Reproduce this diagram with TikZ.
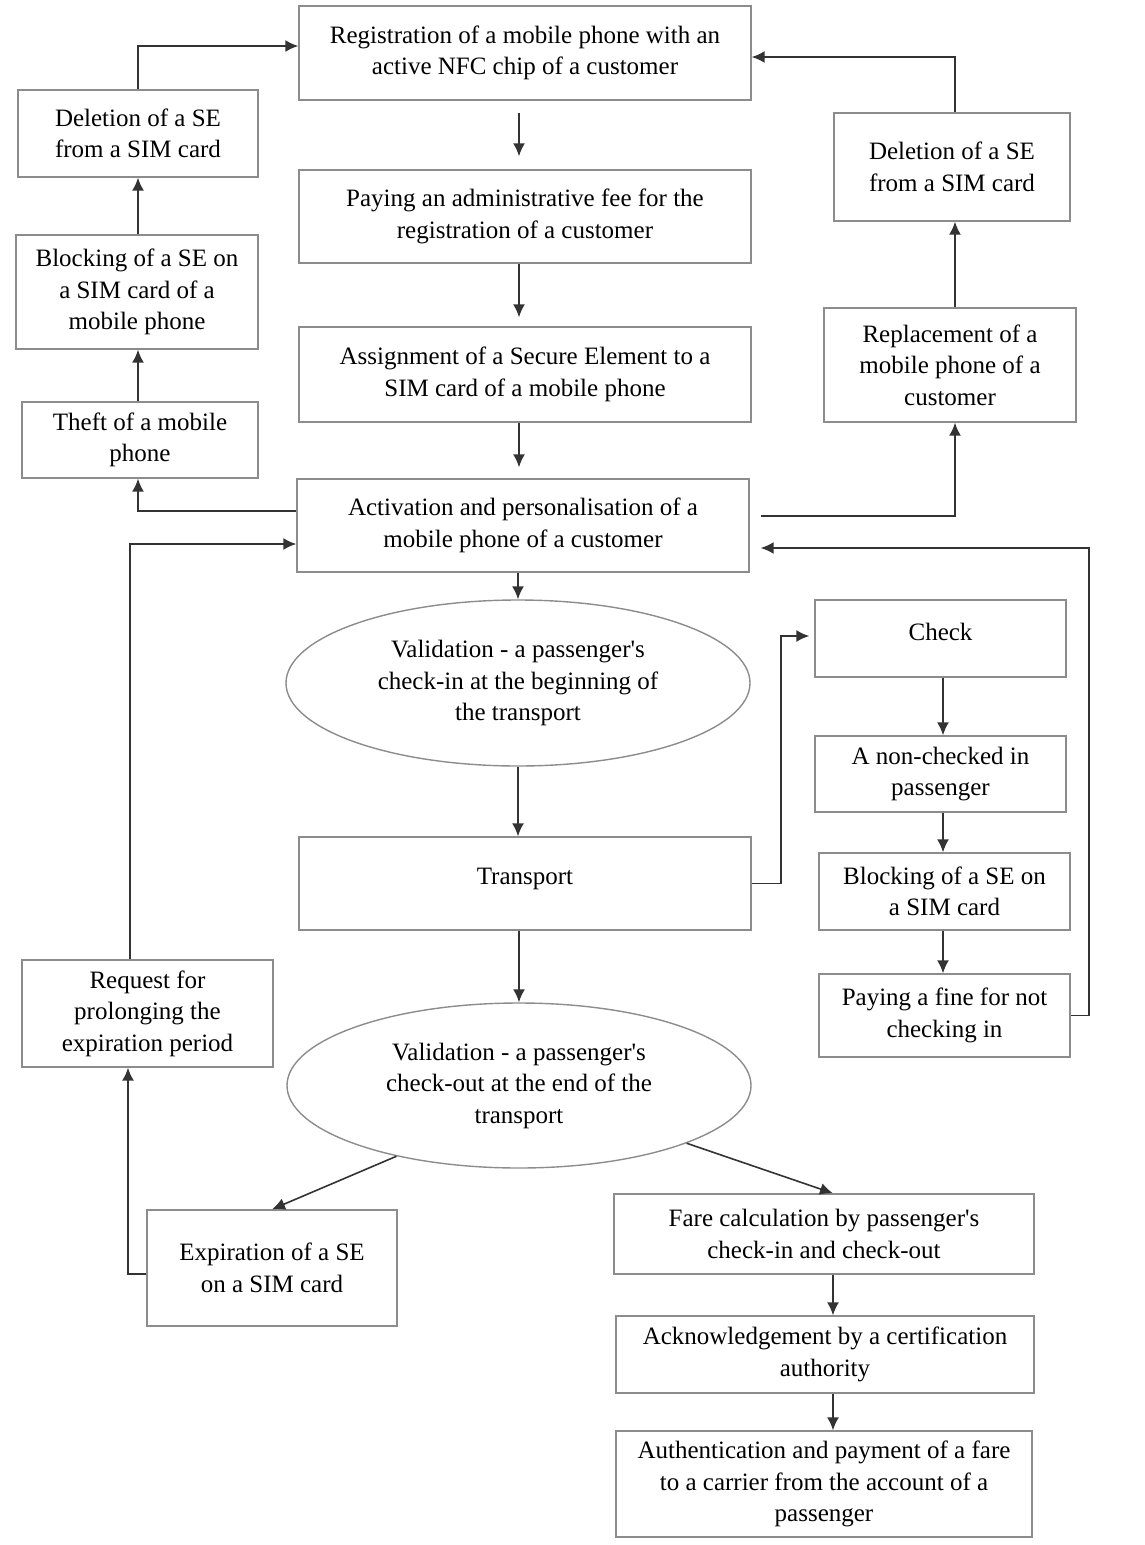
\documentclass[tikz,border=0pt]{standalone}
\usepackage{fontspec}
\setmainfont{Liberation Serif}
\usetikzlibrary{shapes.geometric, arrows.meta}
\tikzset{
->, % directed connectors
>={Latex[length=13pt,width=12pt]}, % filled arrow heads
conn/.style={color=black!80, line width=1.6pt}, % connector lines
dims/.style 2 args={minimum width=#1, minimum height=#2},
box/.style={draw=black!45, line width=1.4pt, rectangle, align=center, inner sep=0pt, font=\fontsize{25}{31.5}\selectfont}, % process boxes
oval/.style={box, ellipse}, % validation steps
}
\newcommand{\ap}{\textquotesingle}
\begin{document}
\begin{tikzpicture}[x=1pt, y=-1pt]
\useasboundingbox (0,0) rectangle (1145,1545);
% main column
\node[box, dims={452pt}{94pt}] (reg) at (525,53) {Registration of a mobile phone with an\\active NFC chip of a customer};
\node[box, dims={452pt}{93pt}] (fee) at (525,216.5) {Paying an administrative fee for the\\registration of a customer};
\node[box, dims={452pt}{95pt}] (assign) at (525,374.5) {Assignment of a Secure Element to a\\SIM card of a mobile phone};
\node[box, dims={452pt}{93pt}] (activ) at (523,525.5) {Activation and personalisation of a\\mobile phone of a customer};
\node[oval, dims={464pt}{166pt}] (valin) at (518,683) {Validation - a passenger\ap s\\check-in at the beginning of\\the transport};
\node[box, dims={452pt}{93pt}, text depth=14pt] (transport) at (525,883.5) {Transport};
\node[oval, dims={464pt}{165pt}] (valout) at (519,1085.5) {Validation - a passenger\ap s\\check-out at the end of the\\transport};
% payment branch
\node[box, dims={250pt}{116pt}] (expire) at (272,1268) {Expiration of a SE\\on a SIM card};
\node[box, dims={420pt}{80pt}] (fare) at (824,1234) {Fare calculation by passenger\ap s\\check-in and check-out};
\node[box, dims={418pt}{77pt}] (ack) at (825,1354.5) {Acknowledgement by a certification\\authority};
\node[box, dims={416pt}{106pt}] (auth) at (824,1484) {Authentication and payment of a fare\\to a carrier from the account of a\\passenger};
\node[box, dims={251pt}{107pt}] (request) at (147.5,1013.5) {Request for\\prolonging the\\expiration period};
% left column
\node[box, dims={236pt}{76pt}] (theft) at (140,440) {Theft of a mobile\\phone};
\node[box, dims={242pt}{114pt}] (blockL) at (137,292) {Blocking of a SE on\\a SIM card of a\\mobile phone};
\node[box, dims={240pt}{87pt}] (delL) at (138,133.5) {Deletion of a SE\\from a SIM card};
% right column
\node[box, dims={236pt}{108pt}] (delR) at (952,167) {Deletion of a SE\\from a SIM card};
\node[box, dims={252pt}{114pt}] (replace) at (950,365) {Replacement of a\\mobile phone of a\\customer};
\node[box, dims={251pt}{77pt}, text depth=14pt] (check) at (940.5,638.5) {Check};
\node[box, dims={251pt}{76pt}] (noncheck) at (940.5,774) {A non-checked in\\passenger};
\node[box, dims={251pt}{77pt}] (blockR) at (944.5,891.5) {Blocking of a SE on\\a SIM card};
\node[box, dims={251pt}{83pt}] (fine) at (944.5,1015.5) {Paying a fine for not\\checking in};
\coordinate (mid) at (519,0);
\coordinate (pay) at (833,0);
\coordinate (rcol) at (955,0);
\coordinate (ccol) at (943,0);
\coordinate (lcol) at (138,0);
% connectors
\begin{scope}[conn]
\draw[shorten <=12pt, shorten >=13pt] (reg.south -| mid) -- (fee.north -| mid);
\draw[shorten >=9pt] (fee.south -| mid) -- (assign.north -| mid);
\draw[shorten >=11pt] (assign.south -| mid) -- (activ.north -| mid);
\draw (activ.south -| valin.north) -- (valin.north);
\draw (valin.south) -- (transport.north -| valin.south);
\draw (transport.south -| valout.north) -- (valout.north);
\draw (valout.210) -- (expire.north);
\draw (valout.341) -- (fare.north -| pay);
\draw (fare.south -| pay) -- (ack.north -| pay);
\draw (ack.south -| pay) -- (auth.north -| pay);
\draw ([yshift=-6pt]expire.west) -| ([xshift=-19.5pt]request.south);
\draw ([xshift=-17.5pt]request.north) |- ([yshift=-18.5pt]activ.west);
\draw ([yshift=14.5pt]activ.west) -| (theft.south -| lcol);
\draw (theft.north -| lcol) -- (blockL.south -| lcol);
\draw (blockL.north -| lcol) -- (delL.south -| lcol);
\draw (delL.north -| lcol) |- ([yshift=7pt]reg.west);
\draw ([xshift=11pt, yshift=9.5pt]activ.east) -| (replace.south -| rcol);
\draw (replace.north -| rcol) -- (delR.south -| rcol);
\draw (delR.north -| rcol) |- ([yshift=-4pt]reg.east);
\draw[shorten >=5pt] (transport.east) -- ++(29,0) |- ([yshift=2.5pt]check.west);
\draw (check.south -| ccol) -- (noncheck.north -| ccol);
\draw (noncheck.south -| ccol) -- (blockR.north -| ccol);
\draw (blockR.south -| ccol) -- (fine.north -| ccol);
\draw (fine.east) -- ++(18,0) |- ([xshift=11pt, yshift=-22.5pt]activ.east);
\end{scope}
\end{tikzpicture}
\end{document}
